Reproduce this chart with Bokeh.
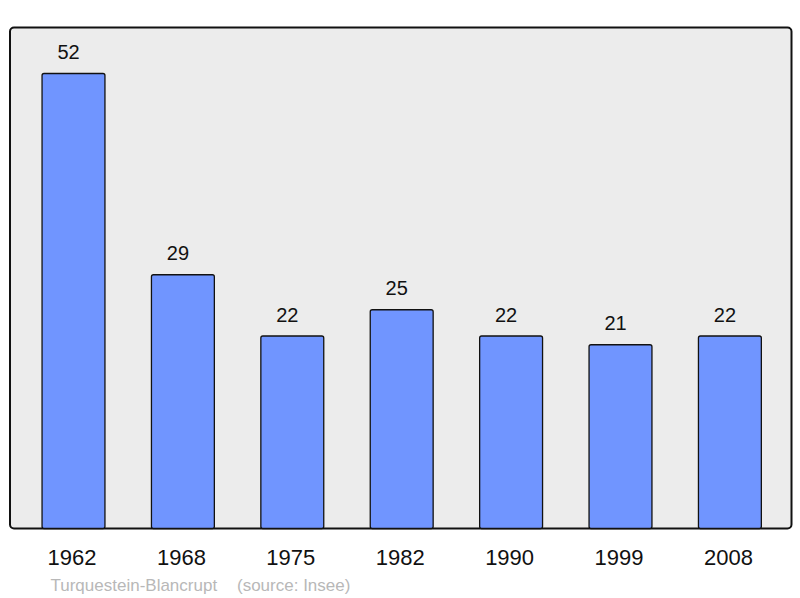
from bokeh.plotting import figure
from bokeh.models import ColumnDataSource, Range1d
from bokeh.core.properties import value
from bokeh.embed import file_html
from bokeh.resources import INLINE

years = ["1962", "1968", "1975", "1982", "1990", "1999", "2008"]
population = [52, 29, 22, 25, 22, 21, 22]
commune = "Turquestein-Blancrupt"
source_note = "(source: Insee)"

W, H = 800, 598
SX = 109.4      # px per category
SY = 8.75       # px per inhabitant
X0 = -73 / SX   # canvas left in data units
Y_TOP = 528 / SY
Y_BOT = -70 / SY
Y_MAX = 57.26

xs = list(range(len(years)))
src = ColumnDataSource(dict(x=xs, top=population, year=years,
                            label=[str(v) for v in population]))

p = figure(width=W, height=H, output_backend="svg", toolbar_location=None,
           x_range=Range1d(X0, X0 + W / SX), y_range=Range1d(Y_BOT, Y_TOP),
           min_border=0, outline_line_color=None)
p.axis.visible = False
p.grid.visible = False
p.background_fill_color = "white"
p.border_fill_color = "white"

# panel
p.quad(left=X0 + 9.5 / SX, right=X0 + 791 / SX, bottom=0, top=Y_MAX,
       fill_color="#ececec", line_color="#111111", line_width=2, border_radius=4)

p.vbar(x="x", top="top", bottom=0, width=0.575, source=src,
       fill_color="#7095ff", line_color="#111111", line_width=1.3, border_radius=2)

p.text(x="x", y="top", text="label", source=src, x_offset=-5, y_offset=-21.5,
       text_align="center", text_baseline="middle", text_font=value("Liberation Sans"),
       text_font_size="20px", text_color="#111111")

p.text(x="x", y=0, text="year", source=src, x_offset=-1.5, y_offset=29,
       text_align="center", text_baseline="middle", text_font=value("Liberation Sans"),
       text_font_size="22px", text_color="#111111")

p.text(x=[X0 + 50 / SX, X0 + 236.5 / SX], y=[0, 0], text=[commune, source_note],
       y_offset=56.5, text_align="left", text_baseline="middle",
       text_font=value("Liberation Sans"), text_font_size="17px", text_color="#b8b8b8")

open("out.html", "w").write(file_html(p, INLINE))
